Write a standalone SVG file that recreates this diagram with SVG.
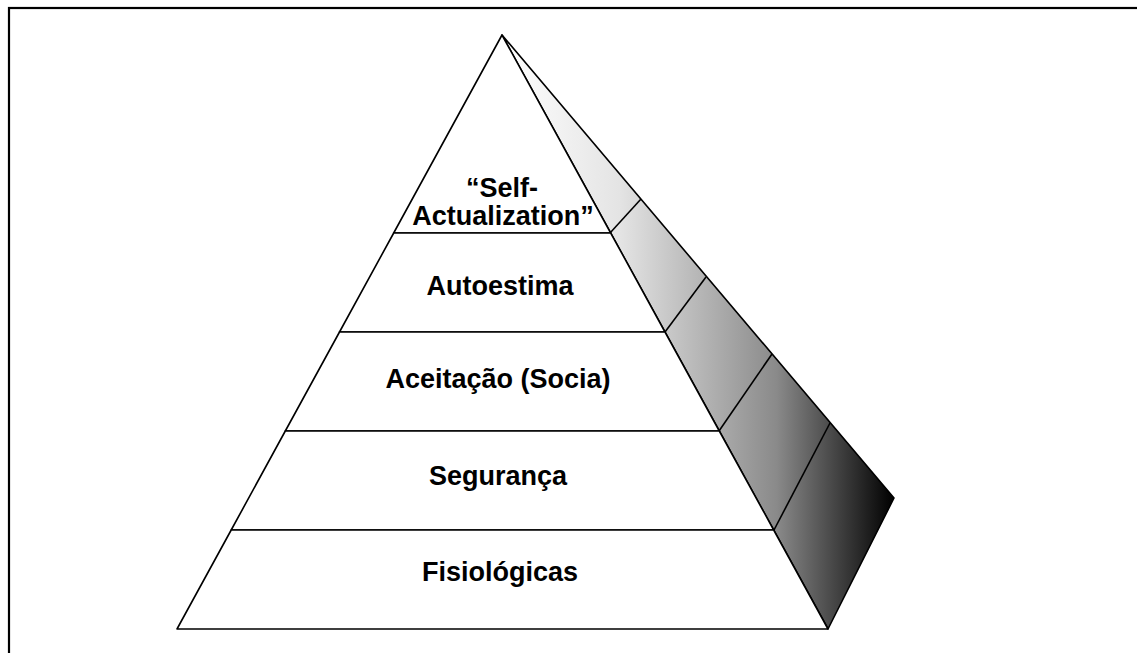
<svg xmlns="http://www.w3.org/2000/svg" width="1137" height="653" viewBox="0 0 1137 653">
  <style>
    .face { fill: #ffffff; stroke: #000000; stroke-width: 1.6; stroke-linejoin: round; }
    .side { stroke: #000000; stroke-width: 1.6; stroke-linejoin: round; }
    .lbl { font-family: "Liberation Sans", Arial, sans-serif; font-weight: bold; font-size: 27px; fill: #000000; text-anchor: middle; }
  </style>
  <defs>
    <linearGradient id="shade" gradientUnits="userSpaceOnUse" x1="502" y1="0" x2="894" y2="0">
      <stop offset="0" stop-color="#ffffff"/>
      <stop offset="0.3" stop-color="#e4e4e4"/>
      <stop offset="0.7" stop-color="#8a8a8a"/>
      <stop offset="1" stop-color="#000000"/>
    </linearGradient>
  </defs>

  <rect width="1137" height="653" fill="#ffffff"/>
  <!-- frame: only top and left edges fall inside the canvas -->
  <rect x="9" y="8" width="1140" height="660" fill="none" stroke="#000000" stroke-width="2.2"/>

  <!-- shaded side face with its bands -->
  <g id="side-face">
    <polygon class="side" fill="url(#shade)" points="502,35 894,498 828,629"/>
    <line class="side" x1="610" y1="233" x2="641" y2="199"/>
    <line class="side" x1="665" y1="332" x2="706" y2="277"/>
    <line class="side" x1="719" y1="431" x2="772" y2="354"/>
    <line class="side" x1="774" y1="530" x2="830" y2="423"/>
  </g>

  <!-- front face layers, top to bottom -->
  <g id="self-actualization">
    <polygon class="face" points="502,35 393.7,233 610.7,233"/>
    <text class="lbl" x="502" y="197">“Self-</text>
    <text class="lbl" x="503" y="225">Actualization”</text>
  </g>
  <g id="autoestima">
    <polygon class="face" points="393.7,233 610.7,233 665,332 339.5,332"/>
    <text class="lbl" x="500" y="295">Autoestima</text>
  </g>
  <g id="aceitacao">
    <polygon class="face" points="339.5,332 665,332 719.3,431 285.3,431"/>
    <text class="lbl" x="498" y="388">Aceitação (Socia)</text>
  </g>
  <g id="seguranca">
    <polygon class="face" points="285.3,431 719.3,431 773.7,530 231.2,530"/>
    <text class="lbl" x="498" y="485">Segurança</text>
  </g>
  <g id="fisiologicas">
    <polygon class="face" points="231.2,530 773.7,530 828,629 177,629"/>
    <text class="lbl" x="500" y="581">Fisiológicas</text>
  </g>
</svg>
